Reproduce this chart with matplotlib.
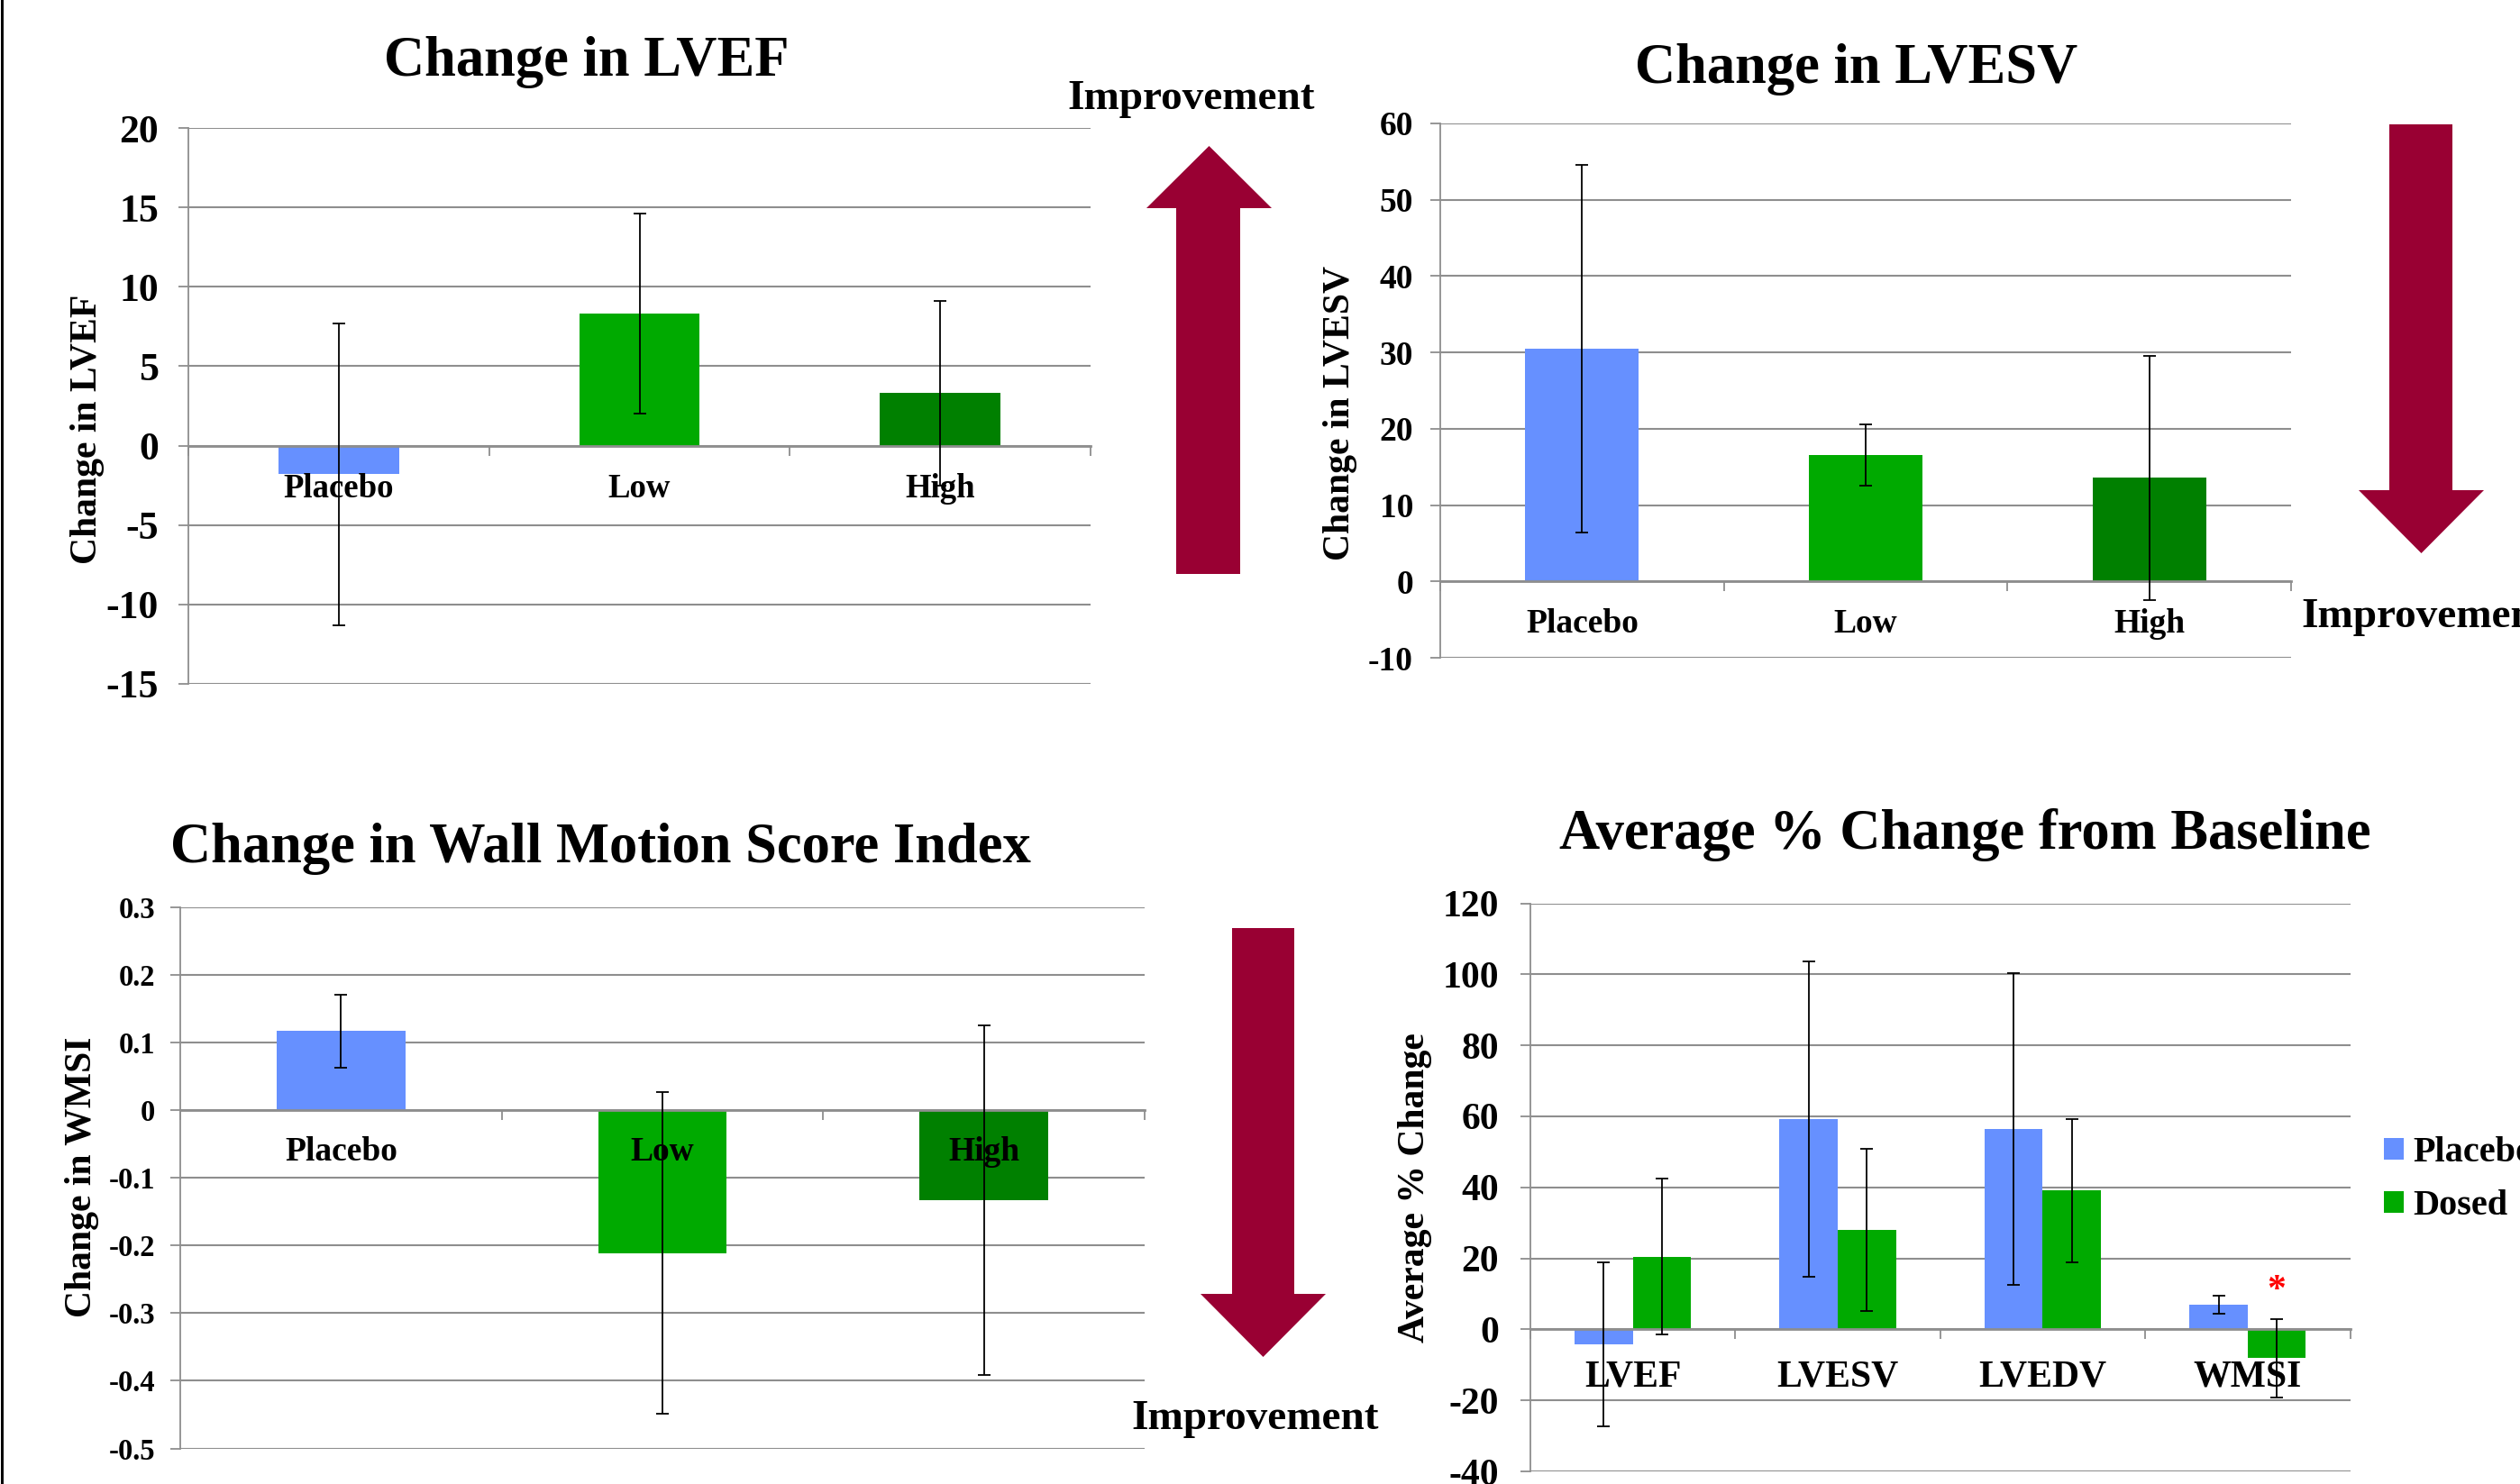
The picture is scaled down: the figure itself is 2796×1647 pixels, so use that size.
import numpy as np
import matplotlib
matplotlib.use("Agg")
import matplotlib.pyplot as plt
from matplotlib.patches import Polygon, Patch
from matplotlib.lines import Line2D
from matplotlib.transforms import offset_copy

# ---------------- data ----------------
dose_groups = ["Placebo", "Low", "High"]

lvef_change = [-1.8, 8.3, 3.3]
lvef_sd = [9.5, 6.3, 5.8]

lvesv_change = [30.5, 16.6, 13.6]
lvesv_sd = [24.1, 4.0, 16.0]

wmsi_change = [0.117, -0.211, -0.133]
wmsi_sd = [0.054, 0.238, 0.258]

pct_metrics = ["LVEF", "LVESV", "LVEDV", "WMSI"]
pct_placebo = [-4.2, 59.3, 56.4, 6.9]
pct_placebo_sd = [23.0, 44.4, 43.9, 2.5]
pct_dosed = [20.5, 28.0, 39.1, -8.1]
pct_dosed_sd = [22.0, 22.9, 20.1, 11.1]

lvef_ticks = [-15, -10, -5, 0, 5, 10, 15, 20]
lvesv_ticks = [-10, 0, 10, 20, 30, 40, 50, 60]
wmsi_ticks = [-0.5, -0.4, -0.3, -0.2, -0.1, 0, 0.1, 0.2, 0.3]
pct_ticks = [-40, -20, 0, 20, 40, 60, 80, 100, 120]

# ---------------- style ----------------
W, H = 2796, 1647
DPI = 100
PT = DPI / 72.0
FONT = "Liberation Serif"
plt.rcParams["font.family"] = [FONT, "DejaVu Serif"]
plt.rcParams["font.weight"] = "bold"

BLUE = "#6690FF"
GREEN = "#00AA00"
DKGREEN = "#008000"
GRID = "#8E8E8E"
ARROW = "#990033"

fig = plt.figure(figsize=(W / DPI, H / DPI), dpi=DPI)
fig.patch.set_facecolor("white")


def fx(x):
    return x / W


def fy(y):
    return 1 - y / H


def px_axes(left, top, right, bottom):
    return fig.add_axes([fx(left), fy(bottom), (right - left) / W, (bottom - top) / H])


def style_axes(ax, ticks, ncat, tick_size, pad_px, fmt):
    ax.set_ylim(ticks[0], ticks[-1])
    ax.set_xlim(-0.5, ncat - 0.5)
    ax.set_yticks(ticks)
    ax.set_yticklabels([fmt(t) for t in ticks], fontsize=tick_size,
                       fontweight="bold", family=FONT)
    ax.tick_params(axis="y", direction="out", length=8, width=1.3,
                   color=GRID, pad=pad_px / PT)
    ax.yaxis.grid(True, color=GRID, lw=1.5)
    ax.set_axisbelow(True)
    for s in ["top", "right"]:
        ax.spines[s].set_visible(False)
    ax.spines["left"].set_color(GRID)
    ax.spines["left"].set_linewidth(1.3)
    ax.spines["bottom"].set_position(("data", 0))
    ax.spines["bottom"].set_color(GRID)
    ax.spines["bottom"].set_linewidth(2.0)
    ax.set_xticks(np.arange(ncat + 1) - 0.5)
    ax.set_xticklabels([])
    ax.tick_params(axis="x", direction="out", length=8, width=1.3, color=GRID)
    ax.set_facecolor("none")


def cat_labels(ax, labels, size, below_px):
    tr = offset_copy(ax.transData, fig=fig, y=-below_px / PT, units="points")
    for i, lab in enumerate(labels):
        ax.text(i, 0, lab, ha="center", va="baseline", fontsize=size,
                fontweight="bold", family=FONT, transform=tr, zorder=3)


def fig_text(x, y, s, size, **kw):
    fig.text(fx(x), fy(y), s, fontsize=size, fontweight="bold", family=FONT, **kw)


def arrow(shaft_l, shaft_r, tail_y, head_y, head_l, head_r, tip_y):
    tip_x = (head_l + head_r) / 2
    pts = [(shaft_l, tail_y), (shaft_r, tail_y), (shaft_r, head_y), (head_r, head_y),
           (tip_x, tip_y), (head_l, head_y), (shaft_l, head_y)]
    fig.add_artist(Polygon([(fx(a), fy(b)) for a, b in pts], closed=True,
                           transform=fig.transFigure, facecolor=ARROW, edgecolor="none"))


def fmt_int(t):
    return "%d" % t


def fmt_dec(t):
    return "0" if t == 0 else ("%.1f" % t)


ERR = dict(fmt="none", ecolor="black", elinewidth=1.3, capsize=4.7, capthick=1.3, zorder=4)
group_colors = [BLUE, GREEN, DKGREEN]
x3 = np.arange(3)

# ---------------- panel 1: LVEF ----------------
ax1 = px_axes(209, 142, 1210, 759)
ax1.bar(x3, lvef_change, width=0.4, color=group_colors, zorder=2)
ax1.errorbar(x3, lvef_change, yerr=lvef_sd, **ERR)
style_axes(ax1, lvef_ticks, 3, 31.5, 22, fmt_int)
cat_labels(ax1, dose_groups, 26.5, 57)
fig_text(651, 84, "Change in LVEF", 45, ha="center", va="baseline")
fig_text(97, 476, "Change in LVEF", 30, ha="center", va="center", rotation=90)
fig_text(1184, 121, "Improvement", 34, ha="left", va="baseline")
arrow(1305, 1376, 637, 231, 1272, 1411, 162)

# ---------------- panel 2: LVESV ----------------
ax2 = px_axes(1598, 137, 2542, 730)
ax2.bar(x3, lvesv_change, width=0.4, color=group_colors, zorder=2)
ax2.errorbar(x3, lvesv_change, yerr=lvesv_sd, **ERR)
style_axes(ax2, lvesv_ticks, 3, 27, 19, fmt_int)
cat_labels(ax2, dose_groups, 27, 57)
fig_text(2060, 92, "Change in LVESV", 45, ha="center", va="baseline")
fig_text(1487, 458, "Change in LVESV", 30, ha="center", va="center", rotation=90)
fig_text(2553, 696, "Improvement", 34, ha="left", va="baseline")
arrow(2651, 2721, 138, 544, 2617, 2756, 614)

# ---------------- panel 3: WMSI ----------------
ax3 = px_axes(200, 1007, 1270, 1607.5)
ax3.bar(x3, wmsi_change, width=0.4, color=group_colors, zorder=2)
ax3.errorbar(x3, wmsi_change, yerr=wmsi_sd, **ERR)
style_axes(ax3, wmsi_ticks, 3, 23.5, 17, fmt_dec)
cat_labels(ax3, dose_groups, 27, 56)
fig_text(666, 957, "Change in Wall Motion Score Index", 45, ha="center", va="baseline")
fig_text(91, 1306, "Change in WMSI", 30, ha="center", va="center", rotation=90)
fig_text(1255, 1586, "Improvement", 34, ha="left", va="baseline")
arrow(1367, 1436, 1030, 1436, 1332, 1471, 1506)

# ---------------- panel 4: average % change ----------------
ax4 = px_axes(1698, 1002.5, 2607.5, 1633)
x4 = np.arange(len(pct_metrics))
bw = 0.284
ax4.bar(x4 - bw / 2, pct_placebo, width=bw, color=BLUE, zorder=2)
ax4.bar(x4 + bw / 2, pct_dosed, width=bw, color=GREEN, zorder=2)
ax4.errorbar(x4 - bw / 2, pct_placebo, yerr=pct_placebo_sd, **ERR)
ax4.errorbar(x4 + bw / 2, pct_dosed, yerr=pct_dosed_sd, **ERR)
style_axes(ax4, pct_ticks, 4, 30, 24, fmt_int)
cat_labels(ax4, pct_metrics, 30, 63)
# significance marker above the dosed WMSI bar
ax4.annotate("*", xy=(x4[3] + bw / 2, pct_dosed[3] + pct_dosed_sd[3]),
             xytext=(0, 8), textcoords="offset points", ha="center", va="bottom",
             color="red", fontsize=30, fontweight="bold", family=FONT, zorder=5)
fig_text(2180, 942.5, "Average % Change from Baseline", 45, ha="center", va="baseline")
fig_text(1570, 1318, "Average % Change", 30, ha="center", va="center", rotation=90)
leg = fig.legend(handles=[Patch(facecolor=BLUE), Patch(facecolor=GREEN)],
                 labels=["Placebo", "Dosed"], loc="center left",
                 bbox_to_anchor=(fx(2645), fy(1309)), frameon=False,
                 prop=dict(family=FONT, weight="bold", size=29),
                 handlelength=0.55, handleheight=0.55, handletextpad=0.25,
                 labelspacing=0.55, borderpad=0, borderaxespad=0)

# slide edge on the left
fig.add_artist(Line2D([fx(2), fx(2)], [0, 1], color="black", lw=3 / PT,
                      transform=fig.transFigure))

fig.savefig("out.png", dpi=DPI, facecolor="white")
